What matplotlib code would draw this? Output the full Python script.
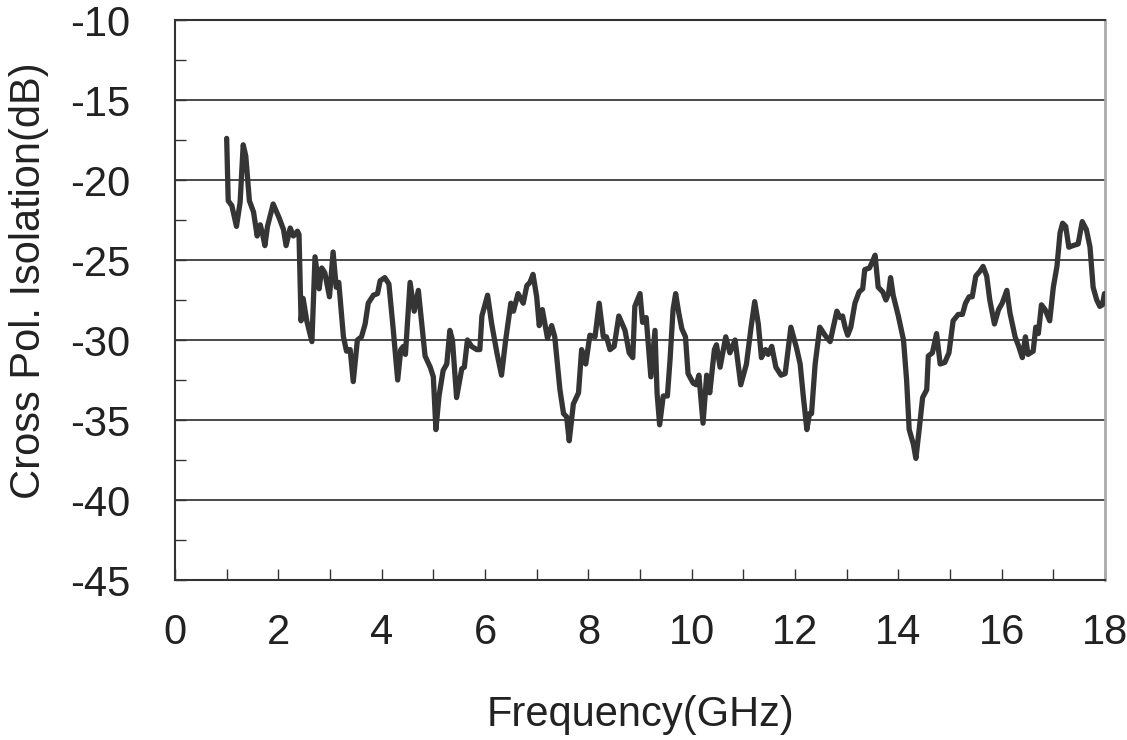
import matplotlib
matplotlib.use("Agg")
import matplotlib.pyplot as plt
from matplotlib.ticker import MultipleLocator

plt.rcParams['font.family'] = ['Liberation Sans', 'DejaVu Sans']
plt.rcParams['axes.unicode_minus'] = False

freq_ghz = [
    1.00, 1.03, 1.10, 1.19, 1.26, 1.32, 1.37, 1.44, 1.52, 1.59, 1.65, 1.69, 1.74, 1.79,
    1.90, 2.02, 2.10, 2.15, 2.23, 2.29, 2.37, 2.40, 2.44, 2.48, 2.55, 2.65, 2.71, 2.79,
    2.84, 2.90, 2.99, 3.06, 3.12, 3.17, 3.26, 3.32, 3.39, 3.45, 3.53, 3.61, 3.68, 3.74,
    3.84, 3.92, 3.97, 4.06, 4.14, 4.22, 4.31, 4.37, 4.42, 4.46, 4.55, 4.63, 4.71, 4.76,
    4.84, 4.94, 5.00, 5.05, 5.11, 5.19, 5.26, 5.32, 5.37, 5.45, 5.55, 5.60, 5.66, 5.74,
    5.84, 5.90, 5.94, 6.05, 6.13, 6.23, 6.32, 6.40, 6.50, 6.55, 6.64, 6.74, 6.81, 6.87,
    6.93, 7.00, 7.05, 7.11, 7.21, 7.29, 7.35, 7.45, 7.52, 7.58, 7.63, 7.71, 7.81, 7.87,
    7.95, 8.03, 8.13, 8.21, 8.29, 8.35, 8.42, 8.50, 8.59, 8.71, 8.79, 8.86, 8.90, 9.00,
    9.05, 9.12, 9.21, 9.29, 9.33, 9.38, 9.45, 9.53, 9.58, 9.64, 9.69, 9.75, 9.81, 9.88,
    9.93, 10.03, 10.09, 10.14, 10.22, 10.29, 10.35, 10.44, 10.48, 10.55, 10.66, 10.74,
    10.84, 10.95, 11.06, 11.15, 11.22, 11.29, 11.35, 11.43, 11.48, 11.55, 11.63, 11.73,
    11.81, 11.92, 12.03, 12.10, 12.16, 12.23, 12.28, 12.32, 12.39, 12.48, 12.58, 12.68,
    12.81, 12.87, 12.92, 12.97, 13.02, 13.08, 13.16, 13.24, 13.31, 13.35, 13.44, 13.50,
    13.55, 13.61, 13.70, 13.76, 13.81, 13.85, 13.90, 14.00, 14.10, 14.16, 14.21, 14.29,
    14.34, 14.41, 14.47, 14.55, 14.58, 14.66, 14.74, 14.81, 14.90, 14.98, 15.06, 15.16,
    15.24, 15.30, 15.37, 15.43, 15.50, 15.58, 15.64, 15.71, 15.77, 15.86, 15.94, 16.01,
    16.10, 16.16, 16.26, 16.33, 16.40, 16.46, 16.51, 16.61, 16.66, 16.71, 16.77, 16.84,
    16.93, 17.00, 17.07, 17.13, 17.18, 17.24, 17.30, 17.38, 17.48, 17.56, 17.64, 17.71,
    17.77, 17.84, 17.90, 17.95, 17.99,
]

isolation_db = [
    -17.4, -21.3, -21.6, -22.9, -21.4, -17.8, -18.5, -21.3, -22.0, -23.5, -22.8, -23.3, -24.1, -22.9,
    -21.5, -22.4, -23.1, -24.1, -23.0, -23.5, -23.2, -23.4, -28.8, -27.4, -28.8, -30.1, -24.8, -26.8,
    -25.5, -25.8, -27.3, -24.5, -26.7, -26.4, -29.8, -30.7, -30.6, -32.6, -30.0, -29.8, -29.0, -27.7,
    -27.2, -27.1, -26.3, -26.1, -26.5, -29.2, -32.5, -30.6, -30.4, -30.9, -26.4, -28.2, -26.9, -28.5,
    -31.0, -31.7, -32.3, -35.6, -33.5, -31.9, -31.5, -29.4, -30.0, -33.6, -31.8, -31.7, -30.0, -30.4,
    -30.6, -30.6, -28.5, -27.2, -29.0, -30.8, -32.2, -30.0, -27.7, -28.2, -27.1, -27.7, -26.6, -26.4,
    -25.9, -27.3, -29.1, -28.1, -29.9, -29.1, -29.8, -33.1, -34.6, -34.8, -36.3, -34.0, -33.3, -30.6,
    -31.5, -29.7, -29.8, -27.7, -29.8, -29.8, -30.6, -30.4, -28.5, -29.4, -30.8, -31.1, -27.9, -27.1,
    -28.9, -28.6, -32.3, -29.4, -33.3, -35.3, -33.5, -33.5, -31.3, -28.1, -27.1, -28.3, -29.3, -29.8,
    -32.1, -32.7, -32.8, -32.2, -35.2, -32.2, -33.3, -30.6, -30.3, -31.7, -29.8, -30.8,
    -30.0, -32.8, -31.5, -29.2, -27.6, -29.0, -31.1, -30.6, -30.9, -30.4, -31.7, -32.2,
    -32.1, -29.2, -30.5, -31.5, -33.5, -35.6, -34.6, -34.6, -31.5, -29.2, -29.7, -30.1,
    -28.2, -28.6, -28.5, -29.2, -29.7, -29.2, -27.7, -27.0, -26.8, -25.6, -25.5, -25.1,
    -24.7, -26.7, -27.0, -27.5, -27.1, -26.1, -27.2, -28.5, -30.0, -32.5, -35.6, -36.5,
    -37.4, -35.4, -33.6, -33.1, -31.0, -30.8, -29.6, -31.5, -31.4, -30.8, -28.8, -28.4,
    -28.4, -27.7, -27.3, -27.3, -26.0, -25.7, -25.4, -26.0, -27.5, -29.0, -28.1, -27.7,
    -26.9, -28.3, -29.8, -30.4, -31.1, -29.8, -30.9, -30.7, -29.2, -29.6, -27.8, -28.1,
    -28.8, -26.7, -25.4, -23.3, -22.7, -22.9, -24.2, -24.1, -24.0, -22.6, -23.1, -24.2,
    -26.7, -27.5, -27.9, -27.8, -27.1,
]

x_ticks = [0, 2, 4, 6, 8, 10, 12, 14, 16, 18]
y_ticks = [-45, -40, -35, -30, -25, -20, -15, -10]

fig = plt.figure(figsize=(11.27, 7.40), dpi=100)
ax = fig.add_axes([175 / 1127, 1 - 580 / 740, (1105 - 175) / 1127, (580 - 20) / 740])

for yv in y_ticks[1:-1]:
    ax.axhline(yv, color='#3c3c3c', linewidth=1.3, zorder=1)

ax.plot(freq_ghz, isolation_db, color='#353535', linewidth=3.8,
        solid_joinstyle='round', solid_capstyle='round', zorder=3)

ax.set_xlim(0, 18)
ax.set_ylim(-45, -10)
ax.set_xticks(x_ticks)
ax.set_yticks(y_ticks)
ax.xaxis.set_minor_locator(MultipleLocator(1))
ax.yaxis.set_minor_locator(MultipleLocator(2.5))

ax.tick_params(axis='x', which='both', direction='in', length=8, width=1,
               color='#333333', labelsize=30, pad=24, labelcolor='#222222')
ax.tick_params(axis='y', which='both', direction='in', length=8, width=1,
               color='#333333', labelsize=30, pad=32, labelcolor='#222222')
ax.tick_params(axis='x', which='major', top=False)
ax.tick_params(axis='y', which='major', right=False)

for side in ['left', 'bottom', 'top']:
    ax.spines[side].set_color('#333333')
    ax.spines[side].set_linewidth(1.5)
ax.spines['right'].set_color('#aaaaaa')
ax.spines['right'].set_linewidth(2)

ax.set_xlabel('Frequency(GHz)', fontsize=30, color='#222222', labelpad=30)
ax.set_ylabel('Cross Pol. Isolation(dB)', fontsize=30, color='#222222')
ax.yaxis.set_label_coords(-0.136, 0.534)

fig.savefig('out.png', dpi=100, facecolor='white')
